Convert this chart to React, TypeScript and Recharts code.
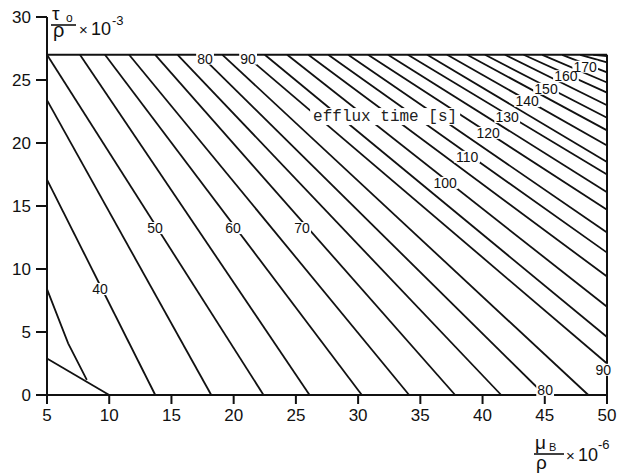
import React from "react";
import { ScatterChart, Scatter, XAxis, YAxis, ReferenceLine } from "recharts";

const xTicks = [5, 10, 15, 20, 25, 30, 35, 40, 45, 50];
const yTicks = [0, 5, 10, 15, 20, 25, 30];

// efflux time of each contour [s]
const levels = [
  35, 40, 45, 50, 55, 60, 65, 70, 75, 80, 85, 90, 95, 100, 105, 110, 115, 120,
  125, 130, 135, 140, 145, 150, 155, 160, 165, 170, 175, 180,
];

// contour paths, [mu/rho, tau/rho] points
const paths: [number, number][][] = [
  [[5, 8.4], [6.7, 4.1], [8.2, 1.2]],
  [[5, 17.1], [13.7, 0]],
  [[5, 23.4], [18.2, 0]],
  [[5, 27], [22.4, 0]],
  [[7.65, 27], [26.1, 0]],
  [[9.66, 27], [30.3, 0]],
  [[11.6, 27], [34.1, 0]],
  [[13.7, 27], [37.8, 0]],
  [[15.5, 27], [41.5, 0]],
  [[17.3, 27], [45.0, 0]],
  [[19.1, 27], [48.5, 0]],
  [[20.9, 27], [50, 2.5]],
  [[22.5, 27], [50, 4.6]],
  [[24.3, 27], [50, 7.0]],
  [[26.0, 27], [50, 9.4]],
  [[27.6, 27], [50, 11.3]],
  [[29.2, 27], [50, 12.9]],
  [[30.8, 27], [50, 14.7]],
  [[32.4, 27], [50, 16.1]],
  [[34.0, 27], [50, 17.5]],
  [[35.55, 27], [50, 18.5]],
  [[37.15, 27], [50, 19.8]],
  [[38.76, 27], [50, 21.0]],
  [[40.2, 27], [50, 22.0]],
  [[41.8, 27], [50, 23.0]],
  [[43.3, 27], [50, 24.0]],
  [[44.8, 27], [50, 24.8]],
  [[46.4, 27], [50, 25.6]],
  [[47.85, 27], [50, 26.4]],
  [[48.9, 27], [50, 26.9]],
];

// the short limit line in the lower left corner
const cornerLine: [number, number][] = [[5, 2.9], [10, 0]];

const labelText = ["40", "50", "60", "70", "80", "90", "100", "110", "120", "130", "140", "150", "160", "170", "80", "90"];
const labelX = [9.26, 13.68, 19.95, 25.5, 17.7, 21.16, 36.99, 38.76, 40.45, 41.98, 43.59, 45.1, 46.7, 48.25, 45.03, 49.7];
const labelY = [8.41, 13.25, 13.25, 13.25, 26.7, 26.7, 16.83, 18.9, 20.8, 22.06, 23.33, 24.3, 25.3, 26.05, 0.4, 2.0];

const titleText = "efflux time [s]";
const titlePos = { x: 32.17, y: 22.06 };

const INK = "#111";
const SANS = "'Liberation Sans', Arial, sans-serif";

const toPts = (p: [number, number][]) => p.map(([x, y]) => ({ x, y }));
const noDot = () => <g />;

const LabelGap = (props: any) => {
  const { cx, cy, payload } = props;
  const w = payload.t.length * 7.9 + 2;
  return <rect x={cx - w / 2} y={cy - 6} width={w} height={12} fill="#fff" />;
};

const LabelText = (props: any) => {
  const { cx, cy, payload } = props;
  return (
    <text x={cx} y={cy + 5} textAnchor="middle" fontFamily={SANS} fontSize={14} fill={INK}>
      {payload.t}
    </text>
  );
};

const TitleLabel = (props: any) => {
  const { cx, cy, payload } = props;
  const w = payload.t.length * 9.6 + 6;
  return (
    <g>
      <rect x={cx - w / 2} y={cy - 9} width={w} height={17} fill="#fff" />
      <text x={cx} y={cy + 4} textAnchor="middle" fontFamily="'Liberation Mono', 'Courier New', monospace" fontSize={16} fill="#222">
        {payload.t}
      </text>
    </g>
  );
};

export default function App() {
  const labels = labelText.map((t, i) => ({ x: labelX[i], y: labelY[i], t }));
  const title = [{ ...titlePos, t: titleText }];

  return (
    <div style={{ position: "absolute", left: 0, top: 0, width: 619, height: 476, background: "#fff" }}>
      <ScatterChart width={619} height={476} margin={{ top: 17, right: 12, bottom: 51, left: 0 }}>
        <XAxis
          type="number"
          dataKey="x"
          domain={[5, 50]}
          ticks={xTicks}
          height={30}
          tickSize={9}
          tickMargin={5}
          axisLine={{ stroke: INK, strokeWidth: 2 }}
          tickLine={{ stroke: INK, strokeWidth: 2 }}
          tick={{ fill: INK, fontSize: 17, fontFamily: SANS }}
        />
        <YAxis
          type="number"
          dataKey="y"
          domain={[0, 30]}
          ticks={yTicks}
          width={47}
          tickSize={11}
          tickMargin={5}
          axisLine={{ stroke: INK, strokeWidth: 2 }}
          tickLine={{ stroke: INK, strokeWidth: 2 }}
          tick={{ fill: INK, fontSize: 17, fontFamily: SANS }}
        />
        <ReferenceLine segment={[{ x: 5, y: 27 }, { x: 50, y: 27 }]} stroke={INK} strokeWidth={2} />
        <ReferenceLine segment={[{ x: 50, y: 0 }, { x: 50, y: 27 }]} stroke={INK} strokeWidth={2} />
        <Scatter data={toPts(cornerLine)} line={{ stroke: INK, strokeWidth: 1.8 }} shape={noDot} isAnimationActive={false} />
        {paths.map((p, i) => (
          <Scatter
            key={levels[i]}
            name={`${levels[i]} s`}
            data={toPts(p)}
            line={{ stroke: INK, strokeWidth: 1.8 }}
            shape={noDot}
            isAnimationActive={false}
          />
        ))}
        <Scatter data={labels} shape={LabelGap} isAnimationActive={false} />
        <Scatter data={labels} shape={LabelText} isAnimationActive={false} />
        <Scatter data={title} shape={TitleLabel} isAnimationActive={false} />
      </ScatterChart>

      <svg width={619} height={476} style={{ position: "absolute", left: 0, top: 0, pointerEvents: "none" }}>
        <g fill={INK} fontFamily={SANS}>
          <text x={52} y={20} fontSize={19}>τ</text>
          <text x={66} y={22} fontSize={12}>o</text>
          <line x1={51} x2={76} y1={25} y2={25} stroke={INK} strokeWidth={1.6} />
          <text x={53} y={37} fontSize={20}>ρ</text>
          <text x={79} y={35} fontSize={15}>×</text>
          <text x={91} y={35} fontSize={18}>10</text>
          <text x={112} y={25} fontSize={13}>-3</text>

          <text x={535} y={449} fontSize={19}>μ</text>
          <text x={549} y={451} fontSize={11}>B</text>
          <line x1={534} x2={564} y1={454} y2={454} stroke={INK} strokeWidth={1.6} />
          <text x={536} y={469} fontSize={19}>ρ</text>
          <text x={566} y={461} fontSize={15}>×</text>
          <text x={578} y={461} fontSize={18}>10</text>
          <text x={598} y={449} fontSize={13}>-6</text>
        </g>
      </svg>
    </div>
  );
}
